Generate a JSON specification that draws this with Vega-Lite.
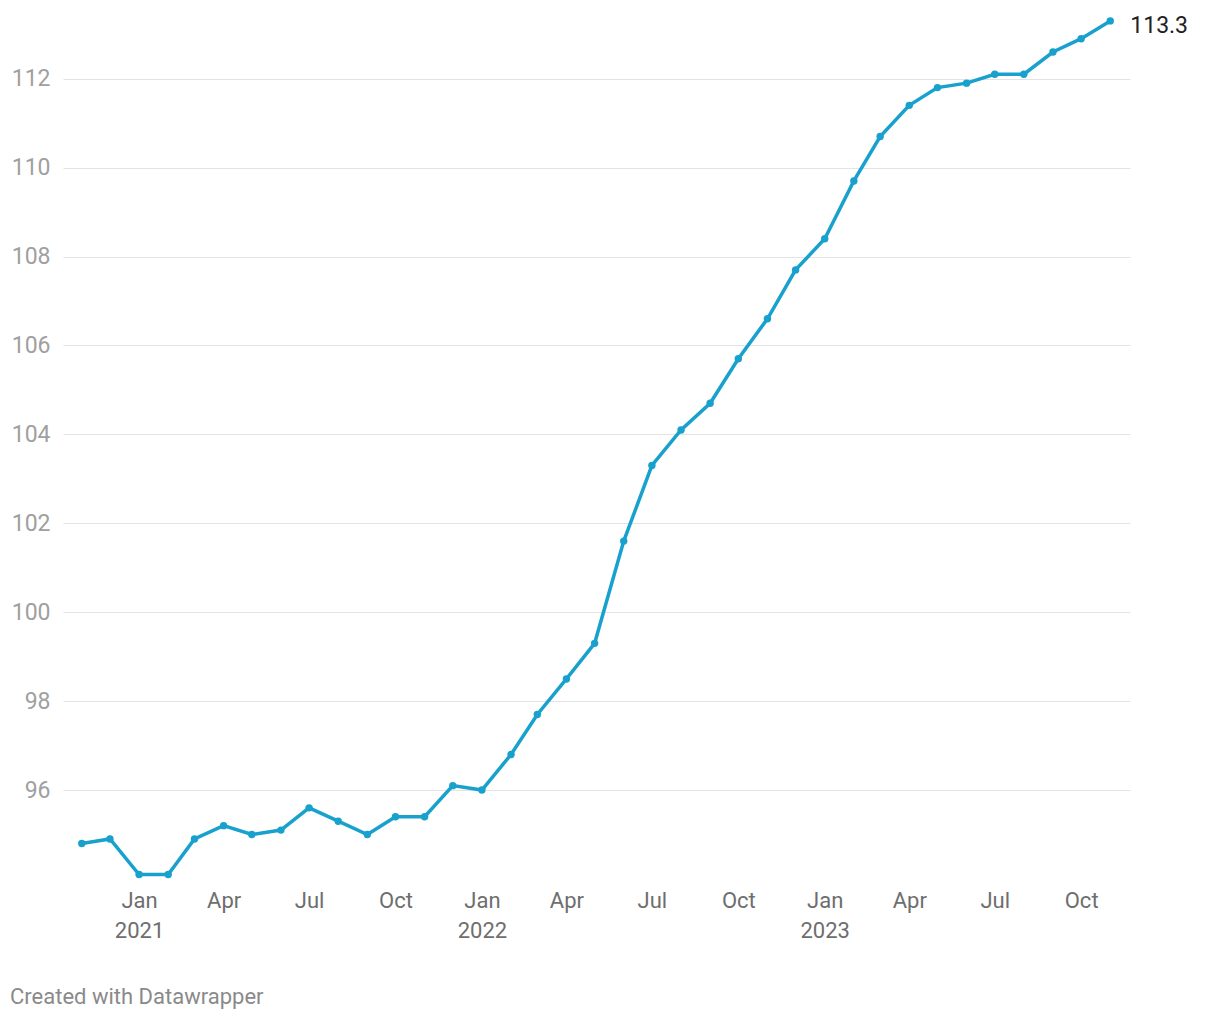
{
  "$schema": "https://vega.github.io/schema/vega-lite/v6.json",
  "autosize": "none",
  "width": 1067,
  "height": 867,
  "padding": {"left": 63, "top": 12, "right": 90, "bottom": 141},
  "background": "white",
  "config": {
    "view": {"stroke": null},
    "font": "Roboto"
  },
  "title": {
    "text": "Created with Datawrapper",
    "orient": "bottom",
    "anchor": "start",
    "frame": "group",
    "dx": -53,
    "offset": 46,
    "fontSize": 22,
    "fontWeight": "normal",
    "color": "#8a8a8a",
    "font": "Roboto"
  },
  "data": {
    "values": [
      {"date": "2020-11-01", "value": 94.8},
      {"date": "2020-12-01", "value": 94.9},
      {"date": "2021-01-01", "value": 94.1},
      {"date": "2021-02-01", "value": 94.1},
      {"date": "2021-03-01", "value": 94.9},
      {"date": "2021-04-01", "value": 95.2},
      {"date": "2021-05-01", "value": 95.0},
      {"date": "2021-06-01", "value": 95.1},
      {"date": "2021-07-01", "value": 95.6},
      {"date": "2021-08-01", "value": 95.3},
      {"date": "2021-09-01", "value": 95.0},
      {"date": "2021-10-01", "value": 95.4},
      {"date": "2021-11-01", "value": 95.4},
      {"date": "2021-12-01", "value": 96.1},
      {"date": "2022-01-01", "value": 96.0},
      {"date": "2022-02-01", "value": 96.8},
      {"date": "2022-03-01", "value": 97.7},
      {"date": "2022-04-01", "value": 98.5},
      {"date": "2022-05-01", "value": 99.3},
      {"date": "2022-06-01", "value": 101.6},
      {"date": "2022-07-01", "value": 103.3},
      {"date": "2022-08-01", "value": 104.1},
      {"date": "2022-09-01", "value": 104.7},
      {"date": "2022-10-01", "value": 105.7},
      {"date": "2022-11-01", "value": 106.6},
      {"date": "2022-12-01", "value": 107.7},
      {"date": "2023-01-01", "value": 108.4},
      {"date": "2023-02-01", "value": 109.7},
      {"date": "2023-03-01", "value": 110.7},
      {"date": "2023-04-01", "value": 111.4},
      {"date": "2023-05-01", "value": 111.8},
      {"date": "2023-06-01", "value": 111.9},
      {"date": "2023-07-01", "value": 112.1},
      {"date": "2023-08-01", "value": 112.1},
      {"date": "2023-09-01", "value": 112.6},
      {"date": "2023-10-01", "value": 112.9},
      {"date": "2023-11-01", "value": 113.3, "label": "113.3"}
    ]
  },
  "encoding": {
    "x": {
      "field": "date",
      "type": "temporal",
      "scale": {
        "type": "utc",
        "domain": [
          {"year": 2020, "month": 10, "date": 12, "utc": true},
          {"year": 2023, "month": 11, "date": 22, "utc": true}
        ]
      },
      "axis": {
        "title": null,
        "grid": false,
        "domain": false,
        "ticks": false,
        "values": [
          {"year": 2021, "month": 1, "date": 1, "utc": true},
          {"year": 2021, "month": 4, "date": 1, "utc": true},
          {"year": 2021, "month": 7, "date": 1, "utc": true},
          {"year": 2021, "month": 10, "date": 1, "utc": true},
          {"year": 2022, "month": 1, "date": 1, "utc": true},
          {"year": 2022, "month": 4, "date": 1, "utc": true},
          {"year": 2022, "month": 7, "date": 1, "utc": true},
          {"year": 2022, "month": 10, "date": 1, "utc": true},
          {"year": 2023, "month": 1, "date": 1, "utc": true},
          {"year": 2023, "month": 4, "date": 1, "utc": true},
          {"year": 2023, "month": 7, "date": 1, "utc": true},
          {"year": 2023, "month": 10, "date": 1, "utc": true}
        ],
        "labelExpr": "utcmonth(datum.value) == 0 ? [utcFormat(datum.value, '%b'), utcFormat(datum.value, '%Y')] : utcFormat(datum.value, '%b')",
        "labelFontSize": 22,
        "labelColor": "#6e6e6e",
        "labelPadding": 11,
        "labelLineHeight": 30,
        "labelFont": "Roboto"
      }
    },
    "y": {
      "field": "value",
      "type": "quantitative",
      "scale": {"domain": [94, 113.5], "nice": false, "zero": false},
      "axis": {
        "title": null,
        "domain": false,
        "ticks": false,
        "values": [96, 98, 100, 102, 104, 106, 108, 110, 112],
        "gridColor": "#e3e3e3",
        "gridWidth": 1,
        "labelFontSize": 23,
        "labelColor": "#a0a0a0",
        "labelPadding": 13,
        "labelFont": "Roboto"
      }
    }
  },
  "layer": [
    {
      "mark": {"type": "line", "color": "#18a1cd", "strokeWidth": 3.5}
    },
    {
      "mark": {"type": "point", "filled": true, "opacity": 1, "color": "#18a1cd", "size": 55}
    },
    {
      "transform": [{"filter": "datum.label != null"}],
      "mark": {"type": "text", "align": "left", "dx": 20, "dy": 5, "fontSize": 23, "color": "#222222", "font": "Roboto"},
      "encoding": {"text": {"field": "label"}}
    }
  ]
}
